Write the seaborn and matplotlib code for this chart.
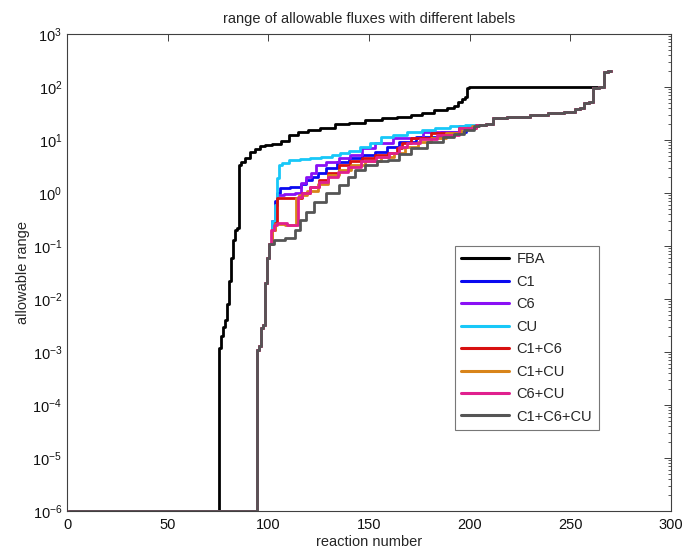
import numpy as np
import pandas as pd
import matplotlib
matplotlib.use("Agg")
import matplotlib.pyplot as plt
import seaborn as sns
from matplotlib.ticker import LogLocator, FixedLocator, NullFormatter
from matplotlib.lines import Line2D

# ---------------- data ----------------
labels = ["FBA", "C1", "C6", "CU", "C1+C6", "C1+CU", "C6+CU", "C1+C6+CU"]
colors = ["#000000", "#0A0AF0", "#8A10F5", "#18C8F8", "#D81010", "#D8841A", "#E0208E", "#555555"]

fba_x = [1, 75, 76, 77, 78, 79, 80, 81, 82, 83, 84, 85, 86, 87, 90, 92, 95, 97, 100, 104,
         109, 112, 117, 122, 129, 137, 143, 153, 160, 168, 174, 179, 186, 191, 193, 195,
         197, 198, 199, 200, 266, 267, 270]
fba_y = [1e-6, 1e-6, 1.2e-3, 2e-3, 3e-3, 4e-3, 8e-3, 2.2e-2, 6e-2, 0.13, 0.2, 0.22, 3.4,
         3.9, 4.5, 6.0, 6.8, 7.8, 8.0, 8.5, 9.6, 12.5, 14.0, 15.5, 17.0, 20.0, 21.0, 24.0,
         26.0, 27.5, 30.0, 32.7, 37.0, 40.0, 44.0, 53.0, 60.0, 66.0, 97.0, 100.0, 100.0,
         195.0, 200.0]

# shared start of the labelled series
head_x = [1, 94, 95, 96, 97, 98, 99, 100]
head_y = [1e-6, 1e-6, 1.1e-3, 1.3e-3, 2.8e-3, 3.2e-3, 2e-2, 6e-2]

# shared end of the labelled series
tail_x = [205, 211, 212, 225, 235, 243, 251, 254, 256, 258, 261, 262, 266, 267, 270]
tail_y = [19.4, 20.0, 26.0, 27.5, 30.0, 32.7, 34.0, 38.0, 41.0, 50.0, 53.0, 97.0, 100.0, 195.0, 200.0]

c1_x = [101, 103, 104, 105, 107, 115, 117, 120, 123, 126, 131, 137, 143, 150, 156, 162, 168, 179, 193, 203]
c1_y = [0.11, 0.3, 0.7, 1.0, 1.25, 1.3, 1.5, 1.76, 2.0, 2.4, 3.0, 3.85, 4.5, 5.2, 5.9, 7.5, 9.2, 11.4, 14.1, 18.0]

c6_x = [101, 103, 104, 105, 111, 115, 117, 120, 122, 125, 132, 138, 143, 150, 156, 168, 186, 203]
c6_y = [0.11, 0.3, 0.6, 0.9, 0.95, 1.0, 1.54, 2.0, 2.4, 3.4, 3.85, 4.6, 5.2, 7.0, 8.8, 10.9, 14.1, 18.5]

cu_x = [101, 103, 104, 105, 106, 108, 113, 118, 123, 129, 134, 137, 143, 148, 153, 159, 165, 173, 180, 186, 194, 201]
cu_y = [0.11, 0.3, 0.6, 1.9, 3.4, 3.7, 4.2, 4.4, 4.6, 4.8, 5.2, 5.7, 6.2, 7.5, 8.8, 11.4, 12.5, 14.1, 15.5, 16.8, 18.0, 19.2]

c1c6_x = [101, 103, 104, 105, 115, 118, 123, 127, 132, 138, 143, 150, 156, 163, 165, 168, 174, 188, 201]
c1c6_y = [0.11, 0.2, 0.27, 0.8, 0.8, 1.0, 1.3, 1.76, 2.4, 3.4, 4.0, 4.6, 5.2, 5.7, 7.0, 8.8, 10.9, 13.5, 16.8]

c1cu_x = [101, 103, 104, 113, 114, 116, 122, 127, 132, 138, 144, 152, 160, 165, 171, 178, 184, 192, 199, 203]
c1cu_y = [0.11, 0.2, 0.26, 0.25, 0.8, 0.9, 1.1, 1.5, 2.2, 2.7, 3.4, 4.0, 4.8, 5.7, 7.4, 9.0, 10.9, 13.5, 16.8, 18.0]

c6cu_x = [101, 102, 104, 105, 114, 115, 118, 123, 127, 132, 137, 142, 150, 157, 163, 167, 171, 180, 188, 201]
c6cu_y = [0.11, 0.2, 0.25, 0.27, 0.25, 0.84, 1.0, 1.3, 1.6, 2.0, 2.5, 3.1, 4.0, 4.8, 5.7, 7.4, 8.8, 10.5, 12.4, 16.8]

all3_x = [101, 105, 112, 114, 117, 120, 125, 132, 138, 141, 145, 151, 157, 162, 168, 174, 184, 190, 194, 200, 204]
all3_y = [0.11, 0.13, 0.14, 0.2, 0.31, 0.44, 0.68, 1.0, 1.4, 2.0, 2.7, 3.4, 4.0, 4.2, 5.5, 7.0, 9.2, 11.4, 12.8, 15.5, 18.0]

mids = {"C1": (c1_x, c1_y), "C6": (c6_x, c6_y), "CU": (cu_x, cu_y),
        "C1+C6": (c1c6_x, c1c6_y), "C1+CU": (c1cu_x, c1cu_y),
        "C6+CU": (c6cu_x, c6cu_y), "C1+C6+CU": (all3_x, all3_y)}

rows = []
for i, (x, y) in enumerate(zip(fba_x, fba_y)):
    rows.append(("FBA", i, x, y))
for lab in labels[1:]:
    mx, my = mids[lab]
    xs = head_x + mx + tail_x
    ys = head_y + my + tail_y
    for i, (x, y) in enumerate(zip(xs, ys)):
        rows.append((lab, i, x, y))
df = pd.DataFrame(rows, columns=["label", "order", "reaction", "range"])

# ---------------- plotting ----------------
sns.set_theme(style="white")
plt.rcParams["font.family"] = ["Liberation Sans", "DejaVu Sans"]
plt.rcParams["mathtext.fontset"] = "custom"
plt.rcParams["mathtext.rm"] = "Liberation Sans"
plt.rcParams["mathtext.it"] = "Liberation Sans"
plt.rcParams["mathtext.default"] = "regular"

fig = plt.figure(figsize=(6.84, 5.50), dpi=100)
ax = fig.add_axes([67 / 684, 1 - 511 / 550, 604 / 684, 477 / 550])

sns.lineplot(data=df, x="reaction", y="range", hue="label", hue_order=labels,
             palette=dict(zip(labels, colors)), sort=False, estimator=None,
             units="label", linewidth=2.0, ax=ax, legend=False, drawstyle="steps-mid")

ax.set_yscale("log")
ax.set_xlim(0, 300)
ax.set_ylim(1e-6, 1e3)
ax.xaxis.set_major_locator(FixedLocator([0, 50, 100, 150, 200, 250, 300]))
ax.yaxis.set_major_locator(LogLocator(base=10, numticks=20))
ax.yaxis.set_minor_locator(LogLocator(base=10, subs=np.arange(2, 10), numticks=20))
ax.yaxis.set_minor_formatter(NullFormatter())

for s in ax.spines.values():
    s.set_color("#404040")
    s.set_linewidth(0.8)
ax.tick_params(which="both", direction="in", top=True, right=True, colors="#404040",
               labelcolor="#111111", labelsize=10.5)
ax.tick_params(which="major", length=5, width=0.7)
ax.tick_params(which="minor", length=2.5, width=0.6)
ax.tick_params(axis="x", which="minor", bottom=False, top=False)
ax.tick_params(axis="x", pad=5)

ax.set_xlabel("reaction number", fontsize=10.5, labelpad=2)
ax.set_ylabel("allowable range", fontsize=10.5, labelpad=2)
ax.set_title("range of allowable fluxes with different labels", fontsize=10.5, pad=8)

handles = [Line2D([0], [0], color=c, lw=2.2) for c in colors]
leg = ax.legend(handles, labels, loc="upper left", bbox_to_anchor=(0.642, 0.556),
                borderaxespad=0, frameon=True, fancybox=False, fontsize=10.5,
                handlelength=3.3, handletextpad=0.5, labelspacing=0.58, borderpad=0.45)
leg.get_frame().set_edgecolor("#555555")
leg.get_frame().set_linewidth(0.8)

fig.savefig("out.png", dpi=100)
